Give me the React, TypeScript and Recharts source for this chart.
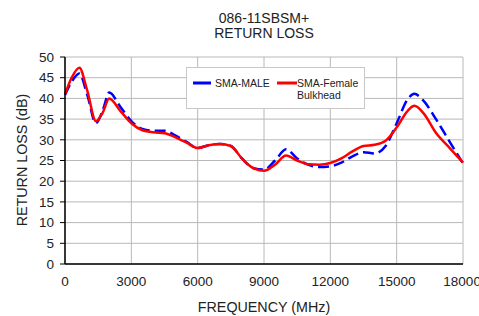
import React from 'react';
import { CartesianGrid, Line, LineChart, XAxis, YAxis } from 'recharts';

const frequencies = [
  0, 300, 650, 1000, 1400, 1700, 2000, 2500, 3000, 3500, 4000, 4500, 5000, 5500, 6000, 6500, 7000,
  7500, 8000, 8500, 9000, 9500, 10000, 10500, 11000, 11500, 12000, 12500, 13000, 13500, 14000,
  14500, 15000, 15500, 15800, 16200, 16800, 17400, 18000,
];

const smaMale = [
  40.8, 44, 46, 41, 34, 37, 41.4, 38, 34.5, 32.6, 32.2, 32.2, 31, 29.5, 28, 28.7, 29, 28.5, 25.5,
  23.2, 22.8, 25, 27.7, 25.5, 24, 23.4, 23.6, 24.5, 26, 27, 26.7, 28.5, 34, 39.8, 41.1, 39.5, 34.8,
  29.5, 24.3,
];

const smaFemale = [
  41, 45, 47.4, 42, 34.5, 36.5, 40, 37, 34, 32.3, 31.8, 31.6, 30.6, 29.3, 28, 28.7, 29, 28.5, 25.5,
  23.2, 22.5, 24, 26.2, 25, 24.1, 24, 24.4, 25.5, 27.2, 28.5, 28.8, 29.8, 33, 37, 38.2, 36.5, 31.5,
  28, 24.5,
];

const xTicks = [0, 3000, 6000, 9000, 12000, 15000, 18000];
const yTicks = [0, 5, 10, 15, 20, 25, 30, 35, 40, 45, 50];

const data = frequencies.map((f, i) => ({ freq: f, male: smaMale[i], female: smaFemale[i] }));

const font = '"Liberation Sans", Arial, sans-serif';

const ChartLegend = () => (
  <div
    style={{
      position: 'absolute',
      left: 186,
      top: 67,
      width: 179,
      height: 42,
      border: '1px solid #c8c8c8',
      background: '#fff',
      fontFamily: font,
      fontSize: 10.5,
      color: '#222',
      boxSizing: 'border-box',
      lineHeight: '12px',
      whiteSpace: 'nowrap',
    }}
  >
    <svg width={20} height={6} style={{ position: 'absolute', left: 6, top: 12 }}>
      <line x1={0} y1={3} x2={18} y2={3} stroke="#0000ff" strokeWidth={3} />
    </svg>
    <span style={{ position: 'absolute', left: 28, top: 9 }}>SMA-MALE</span>
    <svg width={22} height={6} style={{ position: 'absolute', left: 90, top: 12 }}>
      <line x1={0} y1={3} x2={20} y2={3} stroke="#ff0000" strokeWidth={3} />
    </svg>
    <span style={{ position: 'absolute', left: 110, top: 9 }}>
      SMA-Female
      <br />
      Bulkhead
    </span>
  </div>
);

export default function App() {
  return (
    <div style={{ position: 'absolute', left: 0, top: 0, width: 479, height: 316, background: '#fff' }}>
      <div
        style={{
          position: 'absolute',
          left: 0,
          width: 528,
          top: 11,
          textAlign: 'center',
          fontFamily: font,
          fontSize: 14,
          lineHeight: '15px',
          color: '#222',
        }}
      >
        086-11SBSM+
        <br />
        RETURN LOSS
      </div>
      <LineChart
        width={479}
        height={316}
        data={data}
        margin={{ top: 57, right: 16, bottom: 22, left: 0 }}
        style={{ fontFamily: font }}
      >
        <CartesianGrid stroke="#b8b8b8" strokeWidth={1} />
        <XAxis
          dataKey="freq"
          type="number"
          domain={[0, 18000]}
          ticks={xTicks}
          tickLine={false}
          tickSize={0}
          tickMargin={12}
          height={30}
          axisLine={{ stroke: '#000', strokeWidth: 1.5 }}
          tick={{ fill: '#222', fontSize: 13.5 }}
          label={{ value: 'FREQUENCY (MHz)', position: 'bottom', offset: 8, fill: '#222', fontSize: 14.3 }}
        />
        <YAxis
          type="number"
          domain={[0, 50]}
          ticks={yTicks}
          width={65}
          tickSize={5}
          tickMargin={6}
          interval={0}
          axisLine={{ stroke: '#000', strokeWidth: 1.5 }}
          tickLine={{ stroke: '#000' }}
          tick={{ fill: '#222', fontSize: 13.5 }}
          label={{
            content: () => (
              <text
                x={22}
                y={160}
                transform="rotate(-90, 22, 160)"
                textAnchor="middle"
                dominantBaseline="central"
                fill="#222"
                fontSize={14.3}
              >
                RETURN LOSS (dB)
              </text>
            ),
          }}
        />
        <Line
          dataKey="male"
          name="SMA-MALE"
          type="monotone"
          stroke="#0000ff"
          strokeWidth={2.5}
          strokeDasharray="11 5"
          dot={false}
          isAnimationActive={false}
        />
        <Line
          dataKey="female"
          name="SMA-Female Bulkhead"
          type="monotone"
          stroke="#ff0000"
          strokeWidth={2.5}
          dot={false}
          isAnimationActive={false}
        />
      </LineChart>
      <ChartLegend />
    </div>
  );
}
